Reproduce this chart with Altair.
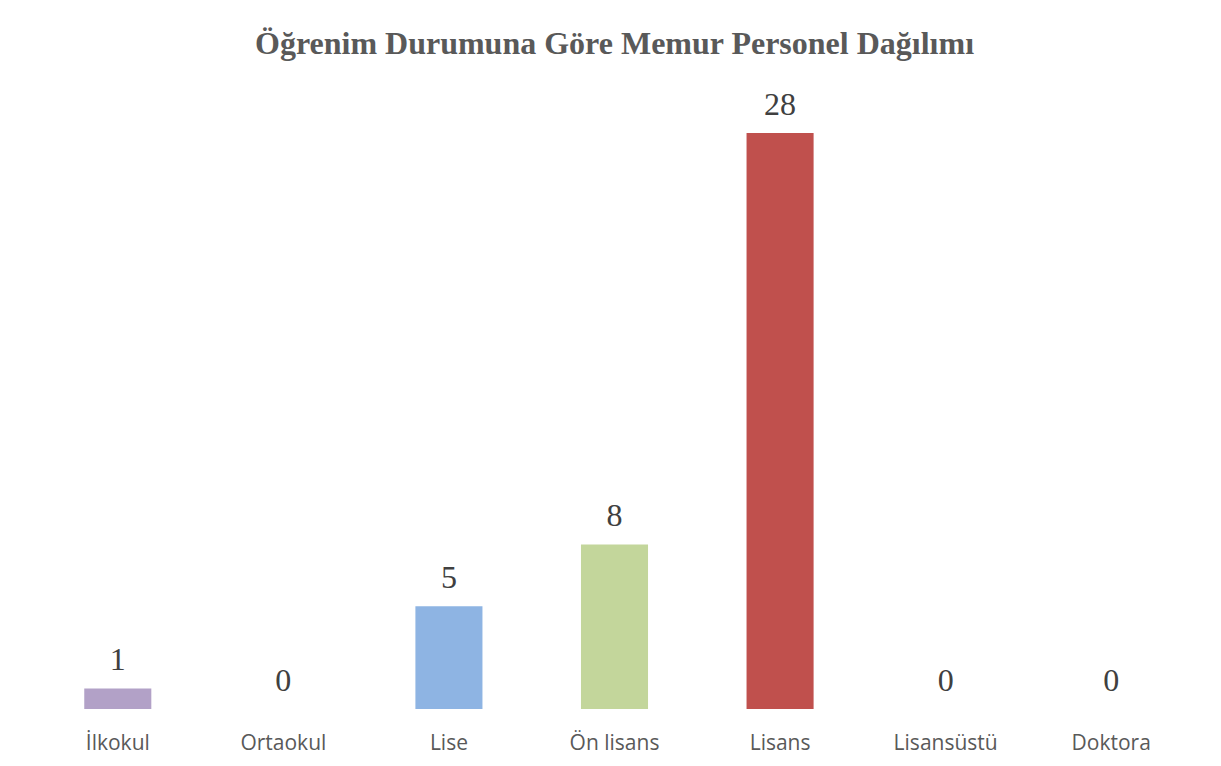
import altair as alt
import pandas as pd

categories = ["İlkokul", "Ortaokul", "Lise", "Ön lisans", "Lisans", "Lisansüstü", "Doktora"]
values = [1, 0, 5, 8, 28, 0, 0]
colors = ["#B2A1C7", "#B2A1C7", "#8EB4E3", "#C3D69B", "#C0504D", "#C0504D", "#C0504D"]

df = pd.DataFrame({"cat": categories, "val": values, "col": colors})

x = alt.X("cat:N", sort=categories, title=None,
          scale=alt.Scale(paddingInner=0.595, paddingOuter=0.2975),
          axis=alt.Axis(labelAngle=0, domain=False, ticks=False, grid=False,
                        labelFont="Open Sans", labelFontSize=21, labelColor="#595959",
                        labelPadding=23))
y = alt.Y("val:Q", title=None, scale=alt.Scale(domain=[0, 28], nice=False),
          axis=None)

bars = alt.Chart(df).mark_bar().encode(
    x=x, y=y, color=alt.Color("col:N", scale=None)
)
labels = alt.Chart(df).mark_text(
    font="Liberation Serif", fontSize=32, color="#404040",
    baseline="alphabetic", dy=-18
).encode(x=x, y=y, text="val:Q")

chart = (bars + labels).properties(
    width=1159, height=576,
    autosize=alt.AutoSizeParams(type="none"),
    padding={"left": 27, "top": 125, "right": 19, "bottom": 49},
    title=alt.Title("Öğrenim Durumuna Göre Memur Personel Dağılımı",
                    font="Liberation Serif", fontSize=32, fontWeight="bold",
                    color="#595959", anchor="middle", frame="group",
                    offset=28),
).configure(background="white", view=alt.ViewConfig(stroke="transparent", strokeWidth=0))

chart.save("out.html", embed_options={"renderer": "svg", "actions": False})
